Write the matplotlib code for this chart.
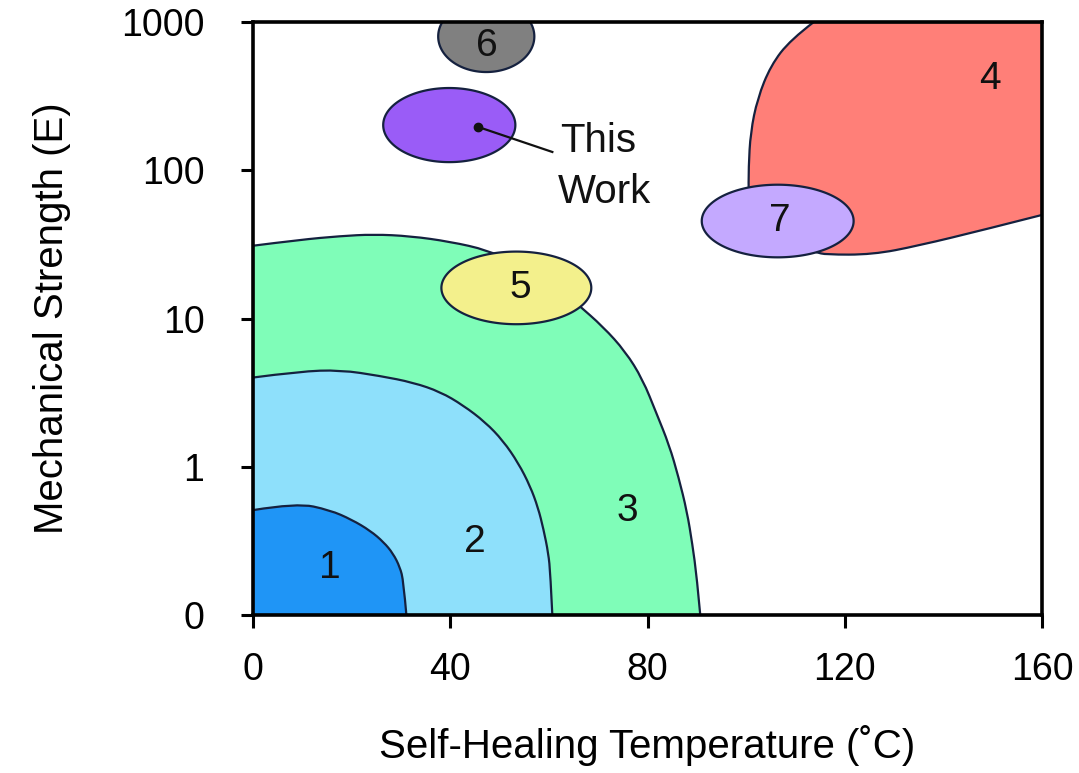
import numpy as np
import matplotlib
matplotlib.use("Agg")
import matplotlib.pyplot as plt
from matplotlib.patches import PathPatch, Polygon
from matplotlib.path import Path

plt.rcParams['font.family'] = ['Liberation Sans', 'DejaVu Sans']

# axis ticks
x_ticks = [0, 40, 80, 120, 160]
y_ticks = [0.1, 1, 10, 100, 1000]
y_tick_labels = ['0', '1', '10', '100', '1000']

# region outlines (temperature, strength)
r1_x = [0, 8.9, 15.6, 20.0, 23.8, 26.5, 28.4, 29.8, 30.5, 31.1]
r1_y = [0.51, 0.57, 0.51, 0.44, 0.37, 0.31, 0.26, 0.21, 0.17, 0.1]

r2_x = [0, 9.5, 17.7, 25.8, 32.5, 38.0, 42.6, 47.1, 50.7, 53.8, 56.2, 57.8, 58.9, 59.9, 60.3, 60.7]
r2_y = [4.0, 4.4, 4.5, 4.1, 3.7, 3.2, 2.6, 2.0, 1.5, 1.06, 0.74, 0.53, 0.38, 0.26, 0.19, 0.1]

r3_x = [0, 9.5, 17.7, 24.4, 31.9, 40.0, 47.5, 54.2, 60.3, 65.8, 71.0, 75.5, 79.0, 81.8, 84.4, 86.3, 88.0, 89.1, 90.0, 90.7]
r3_y = [31, 34, 36, 37, 36, 33, 29, 23, 18, 12.5, 8.8, 6.0, 3.9, 2.3, 1.4, 0.85, 0.50, 0.30, 0.18, 0.1]

r4_x = [113.7, 109.0, 105.0, 102.3, 100.9, 100.5, 100.5, 101.3, 104.9, 114.3, 116.1, 125.6, 134.9, 148.6, 160]
r4_y = [1000, 760, 510, 305, 180, 105, 65, 44, 34, 28, 27, 27, 31, 40, 50]

# ellipses: centre x, centre y, half width (degC), half height (decades), colour
ell_cx = [47.3, 39.8, 53.4, 106.4]
ell_cy = [800, 202, 16.1, 45.5]
ell_hw = [9.75, 13.4, 15.2, 15.4]
ell_hh = [0.24, 0.25, 0.245, 0.245]
ell_colors = ['#808080', '#9A5CF7', '#F3F08C', '#C4A9FF']

# region labels
num_labels = ['1', '2', '3', '4', '5', '6', '7']
num_x = [15.6, 45.0, 75.9, 149.4, 54.3, 47.5, 106.8]
num_y = [0.207, 0.31, 0.50, 413, 16.0, 690, 45.5]

this_work_dot = (45.7, 196)
this_work_end = (60.7, 133)

edge = '#15213f'
fig = plt.figure(figsize=(10.79, 7.73), dpi=100)
ax = fig.add_axes([0.2345, 0.2044, 0.7312, 0.767])
ax.set_yscale('log')
ax.set_xlim(0, 160)
ax.set_ylim(0.1, 1000)


def smooth_region(xs, ys, tail, color, z):
    # quadratic bezier through midpoints of the read outline, straight closing edges
    verts = [(xs[0], ys[0])]
    codes = [Path.MOVETO]
    n = len(xs)
    for i in range(1, n - 2):
        verts += [(xs[i], ys[i]), ((xs[i] + xs[i + 1]) / 2, np.sqrt(ys[i] * ys[i + 1]))]
        codes += [Path.CURVE3, Path.CURVE3]
    verts += [(xs[n - 2], ys[n - 2]), (xs[n - 1], ys[n - 1])]
    codes += [Path.CURVE3, Path.CURVE3]
    for p in tail:
        verts.append(p)
        codes.append(Path.LINETO)
    verts.append(verts[0])
    codes.append(Path.CLOSEPOLY)
    ax.add_patch(PathPatch(Path(verts, codes), facecolor=color, edgecolor=edge,
                           lw=1.6, zorder=z))


smooth_region(r3_x, r3_y, [(0, 0.1)], '#7FFDB8', 2)
smooth_region(r2_x, r2_y, [(0, 0.1)], '#8EE0FB', 3)
smooth_region(r1_x, r1_y, [(0, 0.1)], '#1F95F6', 4)
smooth_region(r4_x, r4_y, [(160, 1000)], '#FF7F78', 2)

t = np.linspace(0, 2 * np.pi, 200)
for cx, cy, hw, hh, c in zip(ell_cx, ell_cy, ell_hw, ell_hh, ell_colors):
    ex = cx + hw * np.cos(t)
    ey = 10 ** (np.log10(cy) + hh * np.sin(t))
    ax.add_patch(Polygon(np.column_stack([ex, ey]), closed=True, facecolor=c,
                         edgecolor=edge, lw=1.6, zorder=5))

for lab, x, y in zip(num_labels, num_x, num_y):
    ax.text(x, y, lab, ha='center', va='center', fontsize=28, color='#111111', zorder=6)

ax.plot(*this_work_dot, 'o', color='#111111', ms=6, zorder=7)
ax.plot([this_work_dot[0], this_work_end[0]], [this_work_dot[1], this_work_end[1]],
        color='#111111', lw=1.6, zorder=7)
ax.text(62.3, 133, 'This', ha='left', va='baseline', fontsize=29, color='#111111', zorder=7)
ax.text(61.8, 60, 'Work', ha='left', va='baseline', fontsize=29, color='#111111', zorder=7)

ax.set_xticks(x_ticks)
ax.set_yticks(y_ticks)
ax.set_yticklabels(y_tick_labels)
ax.minorticks_off()
ax.tick_params(axis='both', labelsize=27, length=9, width=2.2, direction='out')
ax.tick_params(axis='x', pad=18)
ax.tick_params(axis='y', pad=26)
for s in ax.spines.values():
    s.set_linewidth(2.6)
    s.set_zorder(10)

ax.set_xlabel('Self-Healing Temperature (˚C)', fontsize=29, labelpad=26)
ax.set_ylabel('Mechanical Strength (E)', fontsize=29, labelpad=36)

fig.savefig('out.png', dpi=100)
